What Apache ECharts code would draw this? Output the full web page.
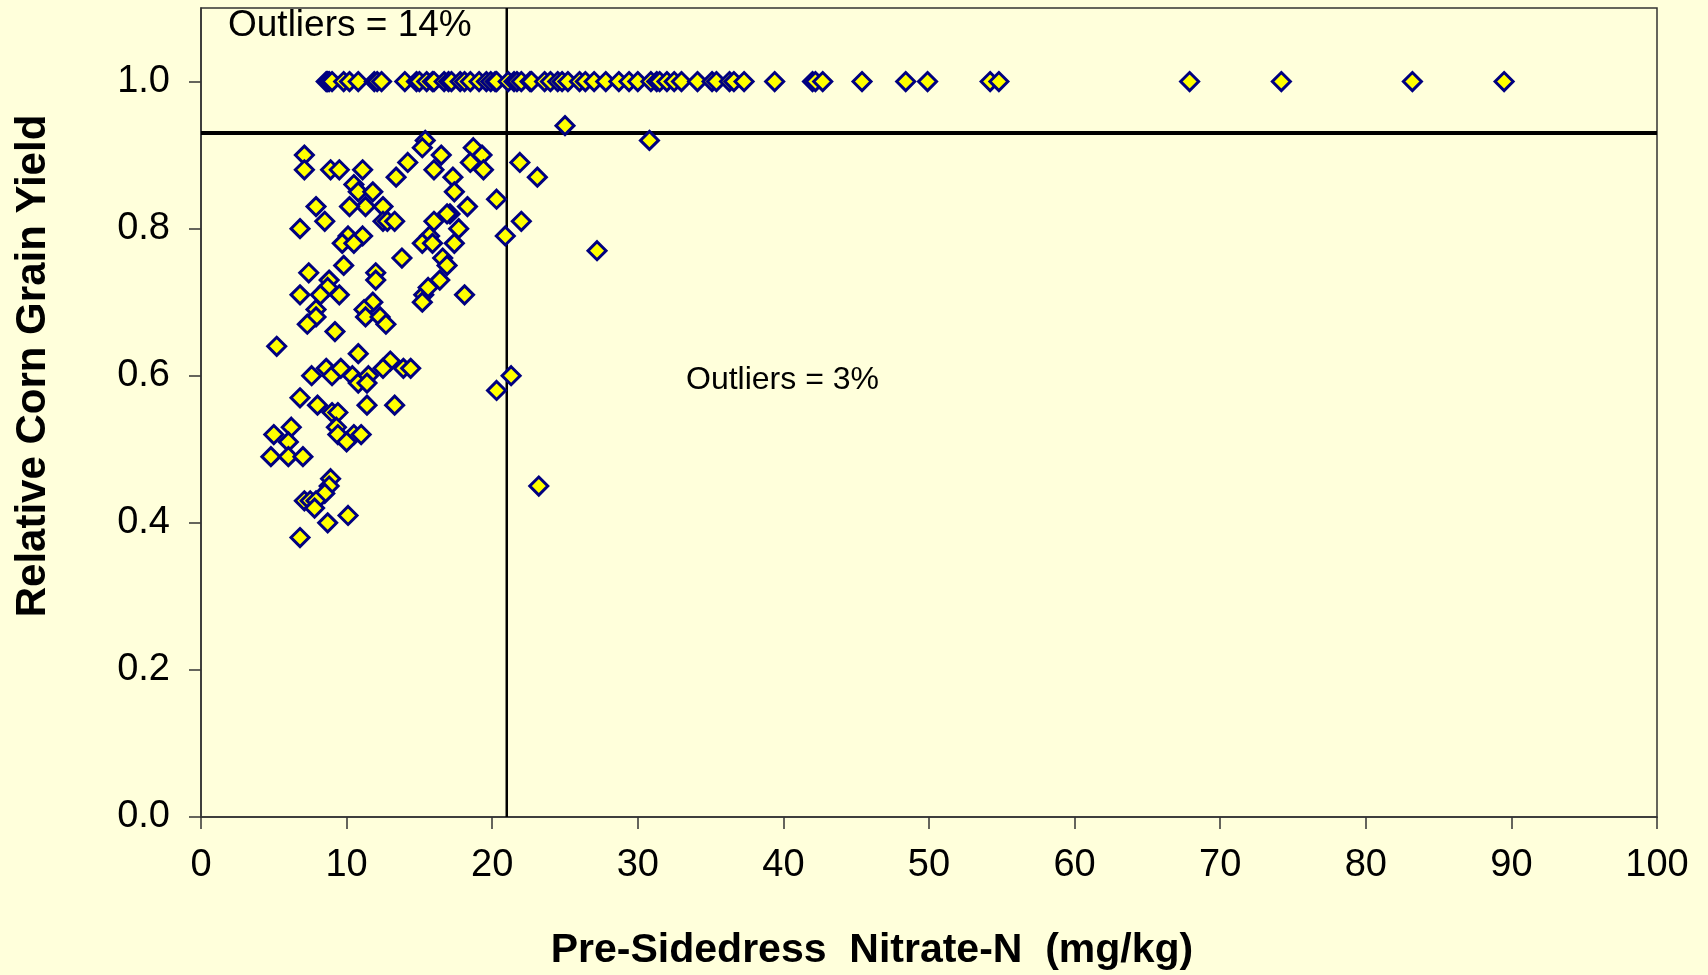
<!DOCTYPE html>
<html>
<head>
<meta charset="utf-8">
<title>Relative Corn Grain Yield vs Pre-Sidedress Nitrate-N</title>
<script src="https://cdn.jsdelivr.net/npm/echarts@6/dist/echarts.min.js"></script>
<style>
  html, body { margin: 0; padding: 0; background: #FFFFDB; }
  #chart { width: 1708px; height: 975px; }
</style>
</head>
<body>
<div id="chart"></div>
<script>
// nitrate-N (mg/kg) of sites that reached full relative yield (1.0)
var fullYieldN = [8.6, 8.7, 8.8, 9.0, 9.8, 10.2, 10.8, 11.9, 12.1, 12.4,
    14.0, 14.8, 15.0, 15.5, 15.9, 16.0, 16.7, 17.0, 17.2, 17.8, 18.1, 18.5,
    19.1, 19.6, 19.9, 20.2, 20.3, 21.1, 21.5, 21.7, 22.0, 22.6, 22.7, 23.6,
    24.0, 24.5, 24.8, 25.2, 26.0, 26.4, 27.0, 27.8, 28.7, 29.4, 30.0, 30.9,
    31.3, 31.5, 32.0, 32.5, 33.0, 34.1, 35.1, 35.4, 36.3, 36.6, 37.3, 39.4,
    42.0, 42.2, 42.7, 45.4, 48.4, 49.9, 54.2, 54.8, 67.9, 74.2, 83.2, 89.5];

// sites below full yield: nitrate-N and relative yield, paired by index
var lowYieldN = [7.1, 7.1, 8.9, 9.5, 11.1, 15.4, 15.2, 16.5, 18.7, 19.3, 18.5, 19.4,
    14.2, 16.0, 17.3, 13.4, 10.5, 10.8, 11.8, 11.3, 10.2, 7.9, 12.5, 17.4,
    18.3, 17.1, 16.9, 20.3, 8.5, 6.8, 12.5, 12.8, 13.3, 16.0, 17.7, 15.7,
    15.2, 15.9, 17.4, 10.1, 11.1, 9.7, 10.5, 9.8, 13.8, 16.6, 16.9, 7.4,
    12.0, 12.0, 16.4, 8.8, 8.7, 8.2, 6.8, 9.5, 11.8, 15.3, 15.6, 15.2,
    18.1, 11.2, 11.3, 12.3, 12.7, 7.9, 7.9, 7.3, 9.2, 5.2, 10.8, 13.0,
    21.9, 23.1, 22.0, 20.9, 25.0, 27.2, 30.8,
    7.6, 8.6, 9.0, 9.6, 10.4, 10.8, 11.5, 11.4, 12.5, 13.9, 14.4, 21.3,
    20.3, 6.8, 8.0, 11.4, 13.3, 9.0, 9.4, 9.3, 6.2, 5.0, 6.0, 9.4,
    10.5, 11.0, 10.0, 4.8, 6.0, 7.0, 8.9, 8.8, 8.5, 7.1, 7.5, 7.9,
    7.8, 8.7, 10.1, 6.8, 23.2];
var lowYieldRY = [0.90, 0.88, 0.88, 0.88, 0.88, 0.92, 0.91, 0.90, 0.91, 0.90, 0.89, 0.88,
    0.89, 0.88, 0.87, 0.87, 0.86, 0.85, 0.85, 0.83, 0.83, 0.83, 0.83, 0.85,
    0.83, 0.82, 0.82, 0.84, 0.81, 0.80, 0.81, 0.81, 0.81, 0.81, 0.80, 0.79,
    0.78, 0.78, 0.78, 0.79, 0.79, 0.78, 0.78, 0.75, 0.76, 0.76, 0.75, 0.74,
    0.74, 0.73, 0.73, 0.73, 0.72, 0.71, 0.71, 0.71, 0.70, 0.71, 0.72, 0.70,
    0.71, 0.69, 0.68, 0.68, 0.67, 0.69, 0.68, 0.67, 0.66, 0.64, 0.63, 0.62,
    0.89, 0.87, 0.81, 0.79, 0.94, 0.77, 0.92,
    0.60, 0.61, 0.60, 0.61, 0.60, 0.59, 0.60, 0.59, 0.61, 0.61, 0.61, 0.60,
    0.58, 0.57, 0.56, 0.56, 0.56, 0.55, 0.55, 0.53, 0.53, 0.52, 0.51, 0.52,
    0.52, 0.52, 0.51, 0.49, 0.49, 0.49, 0.46, 0.45, 0.44, 0.43, 0.43, 0.43,
    0.42, 0.40, 0.41, 0.38, 0.45];

var criticalN = 21;      // critical soil nitrate level
var criticalRY = 0.93;   // relative yield threshold
var xTicks = [0, 10, 20, 30, 40, 50, 60, 70, 80, 90, 100];
var yTicks = [0, 0.2, 0.4, 0.6, 0.8, 1.0];
var yMax = 1.1;

var points = [];
for (var i = 0; i < fullYieldN.length; i++) {
    points.push([fullYieldN[i], 1.0]);
}
for (var j = 0; j < lowYieldN.length; j++) {
    points.push([lowYieldN[j], lowYieldRY[j]]);
}

var font = "'Liberation Sans', Arial, sans-serif";
var myChart = echarts.init(document.getElementById('chart'));
var option = {
    backgroundColor: '#FFFFDB',
    animation: false,
    grid: {
        left: 201, right: 51, top: 8, bottom: 158,
        show: true, borderColor: '#333', borderWidth: 1.5,
        backgroundColor: 'transparent'
    },
    xAxis: {
        type: 'value', min: 0, max: 100, interval: 10,
        axisLine: { lineStyle: { color: '#333', width: 1.5 } },
        axisTick: { length: 12, lineStyle: { color: '#333', width: 1.5 } },
        axisLabel: { fontSize: 38, color: '#000', fontFamily: font, margin: 30,
            customValues: xTicks },
        splitLine: { show: false }
    },
    yAxis: {
        type: 'value', min: 0, max: yMax,
        axisLine: { show: true, lineStyle: { color: '#333', width: 1.5 } },
        axisTick: { show: true, length: 12, customValues: yTicks,
            lineStyle: { color: '#333', width: 1.5 } },
        axisLabel: { fontSize: 38, color: '#000', fontFamily: font, margin: 31,
            customValues: yTicks,
            formatter: function (v) { return v.toFixed(1); } },
        splitLine: { show: false }
    },
    graphic: [
        { type: 'text', left: 228, top: 7,
          style: { text: 'Outliers = 14%', font: '37px ' + font, fill: '#000' } },
        { type: 'text', left: 686, top: 364,
          style: { text: 'Outliers = 3%', font: '32px ' + font, fill: '#000' } },
        { type: 'text', x: 872, y: 951,
          style: { text: 'Pre-Sidedress  Nitrate-N  (mg/kg)', font: 'bold 41px ' + font,
              fill: '#000', align: 'center', verticalAlign: 'middle' } },
        { type: 'text', x: 33, y: 366, rotation: Math.PI / 2,
          style: { text: 'Relative Corn Grain Yield', font: 'bold 42px ' + font,
              fill: '#000', align: 'center', verticalAlign: 'middle' } }
    ],
    series: [
        {
            type: 'line', z: 1, symbol: 'none', silent: true,
            data: [[criticalN, 0], [criticalN, yMax]],
            lineStyle: { color: '#000', width: 2.5 }
        },
        {
            type: 'line', z: 1, symbol: 'none', silent: true,
            data: [[0, criticalRY], [100, criticalRY]],
            lineStyle: { color: '#000', width: 4 }
        },
        {
            type: 'scatter', z: 3,
            symbol: 'diamond', symbolSize: 18,
            itemStyle: { color: '#FFFF00', borderColor: '#000080', borderWidth: 3, opacity: 1 },
            data: points
        }
    ]
};
myChart.setOption(option);
</script>
</body>
</html>
